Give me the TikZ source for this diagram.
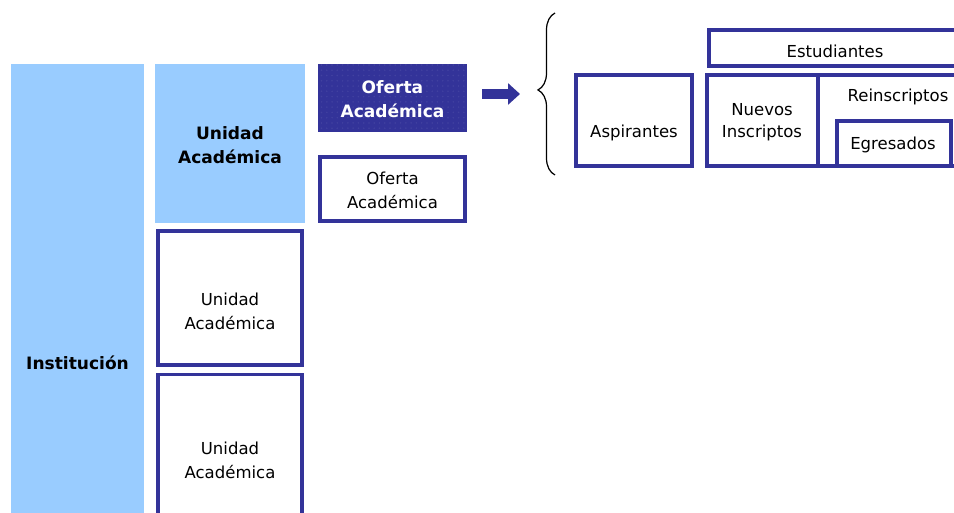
\documentclass[tikz,border=0pt]{standalone}
\usepackage{fontspec}
\setmainfont{DejaVu Sans}
\usepackage{tikz}
\usetikzlibrary{arrows.meta,decorations.pathreplacing,patterns}

\definecolor{azul}{RGB}{51,51,153}
\definecolor{celeste}{RGB}{153,204,255}

\begin{document}
\begin{tikzpicture}[x=0.02cm, y=-0.02cm,
    txt/.style={align=center, inner sep=0pt, font=\fontsize{9.4}{13.6}\selectfont},
    txtb/.style={align=center, inner sep=0pt, font=\fontsize{9.7}{13.6}\selectfont\bfseries},
    lbox/.style={rectangle, fill=celeste, inner sep=0pt},
    ubox/.style={rectangle, draw=azul, line width=2pt, fill=white, inner sep=0pt},
    dbox/.style={rectangle, fill=azul, inner sep=0pt}]
    \useasboundingbox[fill=white] (0,0) rectangle (954,513);
    \clip (0,0) rectangle (954,513);

    % institucion y unidades
    \node[lbox, minimum width=2.66cm, minimum height=11.96cm] at (77.5, 363) (inst) {};
    \node[txtb] at (inst.center) (instt) {Institución};
    \node[lbox, minimum width=3.0cm, minimum height=3.18cm] at (230, 143.5) (ua1) {};
    \node[txtb] at (230, 145) (ua1t) {Unidad\\Académica};
    \node[ubox, minimum width=2.89cm, minimum height=2.69cm] at (230, 298) (ua2) {};
    \node[txt] at (230, 311) (ua2t) {Unidad\\Académica};
    \node[ubox, minimum width=2.89cm, minimum height=2.9cm] at (230, 447) (ua3) {};
    \node[txt] at (230, 460) (ua3t) {Unidad\\Académica};

    % ofertas
    \node[dbox, minimum width=2.98cm, minimum height=1.36cm] at (392.5, 98) (ofa) {};
    \fill[pattern=dots, pattern color=white, opacity=0.07] (ofa.north west) rectangle (ofa.south east);
    \node[txtb, text=white] at (392.5, 99) (ofat) {Oferta\\Académica};
    \node[ubox, minimum width=2.91cm, minimum height=1.29cm] at (392.5, 189) (ofb) {};
    \node[txt] at (392.5, 190) (ofbt) {Oferta\\Académica};

    % flecha y llave
    \coordinate (tip) at (538, 94);
    \draw[azul, line width=6.2pt, -{Triangle[length=6.8pt, width=11.9pt]},
        shorten <=15*0.02cm, shorten >=18*0.02cm] (ofa.east |- tip) -- (tip);
    \coordinate (llb) at (555, 175);
    \coordinate (llt) at (555, 13);
    \draw[line width=0.7pt, decorate,
        decoration={brace, amplitude=0.34cm, aspect=0.525}] (llb) -- (llt);

    % alumnos
    \node[ubox, minimum width=2.33cm, minimum height=1.83cm] at (634, 120.5) (asp) {};
    \node[txt] at (634, 133) (aspt) {Aspirantes};
    \node[ubox, minimum width=5.05cm, minimum height=0.73cm] at (835, 48) (est) {};
    \node[txt] at (835, 51) (estt) {Estudiantes};
    \node[ubox, minimum width=3.21cm, minimum height=1.83cm] at (898, 120.5) (rei) {};
    \node[txt] at (898, 97) (reit) {Reinscriptos};
    \node[ubox, minimum width=2.23cm, minimum height=1.83cm] at (762.5, 120.5) (nue) {};
    \node[txt, font=\fontsize{9.4}{12.3}\selectfont] at (762, 122) (nuet) {Nuevos\\Inscriptos};
    \node[ubox, minimum width=2.29cm, minimum height=0.91cm] at (894, 143.5) (egr) {};
    \node[txt] at (893, 145) (egrt) {Egresados};
\end{tikzpicture}
\end{document}
